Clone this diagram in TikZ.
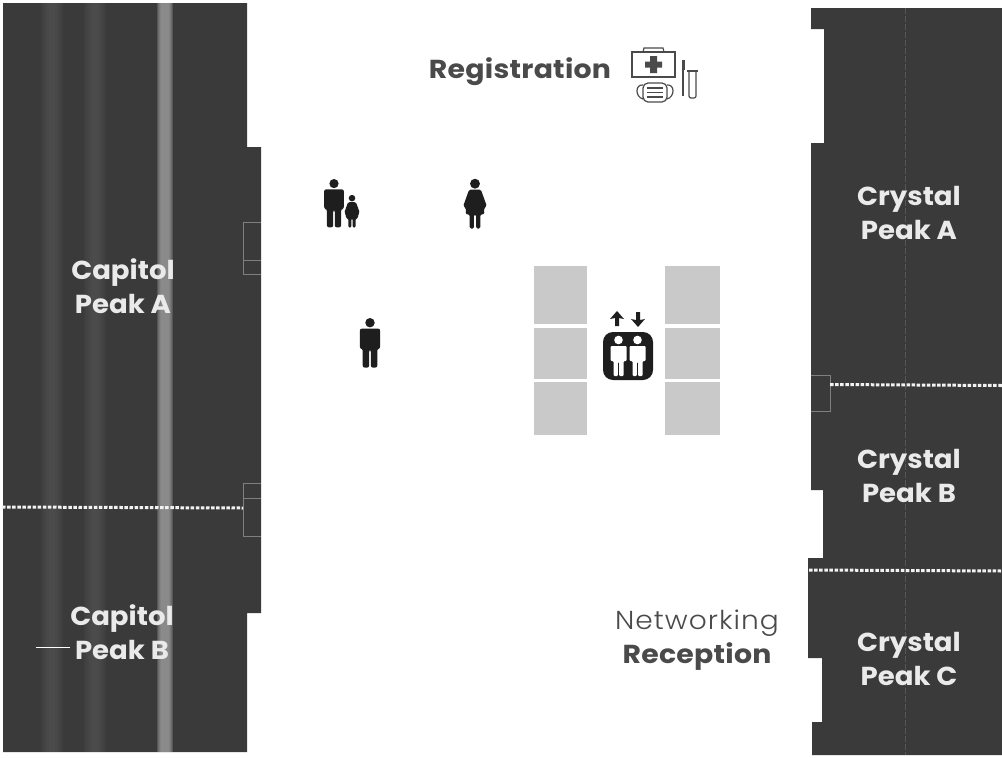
\documentclass[tikz,border=0pt]{standalone}
\usepackage{fontspec}
\setmainfont{Poppins}
\newfontfamily\lblf[FakeStretch=1.06]{Poppins}
\newfontfamily\darkf[FakeStretch=1.09,LetterSpace=1]{Poppins}
\newfontfamily\lightf[FakeStretch=1.08,LetterSpace=4]{Poppins Light}
\definecolor{hall}{HTML}{3A3A3A}
\definecolor{stripe}{HTML}{9C9C9C}
\definecolor{soft}{HTML}{5A5A5A}
\definecolor{pad}{HTML}{C9C9C9}
\definecolor{ink}{HTML}{1E1E1E}
\definecolor{txt}{HTML}{EAEAEA}
\definecolor{regc}{HTML}{4A4A4A}
\tikzset{
 x=1pt,y=-1pt,
 room/.style={fill=hall,draw=none},
 divider/.style={draw=white!95!black,line width=3pt,dash pattern=on 3.5pt off 1.6pt},
 door/.style={draw=white!35!hall,line width=.8pt,fill=none},
 padbox/.style={fill=pad,draw=none},
 roomlabel/.style={text=txt,font=\fontsize{26}{33.5}\selectfont\lblf\bfseries,align=center,inner sep=0pt},
 darklabel/.style={text=regc,font=\fontsize{26}{33}\selectfont\darkf\bfseries,inner sep=0pt},
 person/.style={fill=ink,draw=none},
 thin ink/.style={draw=regc,line width=1.2pt,fill=none},
}
\newcommand{\man}[3]{% x, y-top, scale
 \begin{scope}[shift={(#1,#2)},scale=#3]
 \fill[person] (0,4) circle (4);
 \fill[person,rounded corners=2] (-8.6,9) -- (8.6,9) -- (8.6,26) -- (6.2,26) -- (6.2,42) -- (.7,42) -- (.7,27) -- (-.7,27) -- (-.7,42) -- (-6.2,42) -- (-6.2,26) -- (-8.6,26) -- cycle;
 \end{scope}}
\newcommand{\woman}[3]{%
 \begin{scope}[shift={(#1,#2)},scale=#3]
 \fill[person] (0,4) circle (4.2);
 \fill[person,rounded corners=1.5] (-5,9) -- (5,9) -- (10,23) -- (7.5,25) -- (8,30) -- (4.5,30) -- (4.5,42) -- (.9,42) -- (.9,30) -- (-.9,30) -- (-.9,42) -- (-4.5,42) -- (-4.5,30) -- (-8,30) -- (-7.5,25) -- (-10,23) -- cycle;
 \end{scope}}
\newcommand{\liftman}[1]{%
 \begin{scope}[shift={(#1,0)}]
 \fill[white] (0,340) circle (4.3);
 \fill[white,rounded corners=1] (-8,346) -- (8,346) -- (8,361) -- (5,361) -- (5,376) -- (.7,376) -- (.7,362) -- (-.7,362) -- (-.7,376) -- (-5,376) -- (-5,361) -- (-8,361) -- cycle;
 \end{scope}}
\begin{document}
\begin{tikzpicture}
\useasboundingbox (0,0) rectangle (1002,758);
\fill[white] (0,0) rectangle (1002,758);
% left hall
\path[room] (3,3) -- (247,3) -- (247,147) -- (261,147) -- (261,613) -- (247,613) -- (247,752) -- (3,752) -- cycle;
\foreach \c in {52,95}{
 \foreach \w in {11,9,7,5,3}{\fill[soft,opacity=.16] (\c-\w,3) rectangle (\c+\w,752);}
}
\foreach \w in {8,7,6,5,4}{\fill[stripe,opacity=.3] (165-\w,3) rectangle (165+\w,752);}
\draw[door] (261,222) -- (243,222) -- (243,274) -- (261,274) (243,260) -- (261,260);
\draw[door] (261,483) -- (243,483) -- (243,536) -- (261,536) (243,498) -- (261,498);
\draw[divider] (2,507) -- (243,508);
\node[roomlabel] (capa) at (123,286) {Capitol\\Peak A};
\node[roomlabel] (capb) at (122,632) {Capitol\\Peak B};
\draw[white,line width=.9pt] (36,647) -- (70,647);
% right hall
\path[room] (811,8) -- (1002,8) -- (1002,755) -- (812,755) -- (812,722) -- (822,722) -- (822,658) -- (808,658) -- (808,558) -- (823,558) -- (823,490) -- (811,490) -- (811,143) -- (824,143) -- (824,29) -- (811,29) -- cycle;
\draw[white!14!hall,line width=1pt,dash pattern=on 6pt off 2pt] (905,8) -- (905,755);
\draw[door] (811,375) -- (830,375) -- (830,411) -- (811,411);
\draw[divider] (830,384.5) -- (1002,385.5);
\draw[divider] (809,570) -- (1002,571);
\node[roomlabel] (cra) at (909,213) {Crystal\\Peak A};
\node[roomlabel] (crb) at (909,476) {Crystal\\Peak B};
\node[roomlabel] (crc) at (909,659) {Crystal\\Peak C};
% registration
\node[darklabel] (reg) at (520,72) {Registration};
\draw[thin ink] (632,52) rectangle (675,77);
\draw[thin ink] (643,52) -- (644,48) -- (663,48) -- (664,52);
\fill[regc] (650,56) rectangle (657,73) (645,61.5) rectangle (662,67.5);
\draw[thin ink,rounded corners=5] (643,83) rectangle (667,102);
\draw[thin ink] (647,88) -- (663,88) (647,92.5) -- (663,92.5) (647,97) -- (663,97);
\draw[thin ink] (643,85) .. controls (635,84) and (635,97) .. (643,99);
\draw[thin ink] (667,85) .. controls (675,84) and (675,97) .. (667,99);
\draw[thin ink] (683,66) -- (683,96);
\fill[regc] (682,60) rectangle (684.5,70);
\draw[thin ink,rounded corners=2] (689,71) -- (689,98) -- (696,98) -- (696,71);
\draw[thin ink] (687,71) -- (698,71);
% people
\man{334}{179}{1.15}
\woman{352}{195}{.78}
\woman{475}{179}{1.18}
\man{370}{318}{1.18}
% elevators
\foreach \x/\w in {534/53,665/55}{
 \fill[padbox] (\x,266) rectangle ++(\w,58);
 \fill[padbox] (\x,328) rectangle ++(\w,51);
 \fill[padbox] (\x,382) rectangle ++(\w,53);
}
\fill[ink,rounded corners=10] (603,332) rectangle (653,380);
\liftman{618.5}
\liftman{637.5}
\fill[ink] (617,311) -- (624,319) -- (619,318) -- (619,326) -- (615,326) -- (615,318) -- (610,319) -- cycle;
\fill[ink] (638,327) -- (631,319) -- (636,320) -- (636,312) -- (640,312) -- (640,320) -- (645,319) -- cycle;
% networking
\node[text=regc,font=\fontsize{26}{33}\selectfont\lightf,inner sep=0pt] (net) at (697,623) {Networking};
\node[darklabel] (rec) at (697,657) {Reception};
\end{tikzpicture}
\end{document}
